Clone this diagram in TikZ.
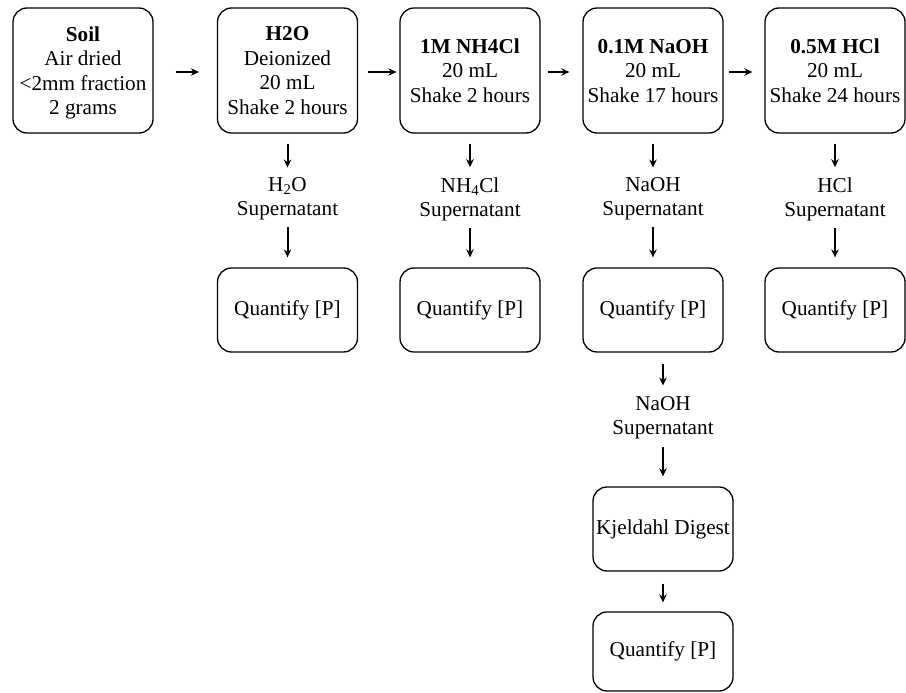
\documentclass[tikz,border=0pt]{standalone}
\usepackage{fontspec}
\setmainfont{Liberation Serif}
\usetikzlibrary{shapes.geometric, arrows, arrows.meta}

\begin{document}
\begin{tikzpicture}[x=1pt,y=-1pt,
  box/.style={draw, rounded corners=14pt, line width=1.3pt, align=center,
    minimum width=140pt, inner sep=0pt, font=\fontsize{21.2}{24.5}\selectfont},
  topbox/.style={box, minimum height=125pt, text depth=-10pt},
  supnode/.style={align=center, inner sep=0pt, font=\fontsize{21.2}{24}\selectfont},
  flow/.style={-{Stealth[length=8pt,width=7.5pt]}, line width=2pt}]
\useasboundingbox (0,0) rectangle (906,693);

% \draw[step=50, gray, very thin] (0,0) grid (906,693);

% top row
\node[topbox] (soil) at (83,70.5)
  {\textbf{Soil}\\Air dried\\<2mm fraction\\2 grams};
\node[topbox] (water) at (287.5,70.5)
  {\textbf{H2O}\\Deionized\\20 mL\\Shake 2 hours};
\node[topbox] (nhcl) at (470,70.5)
  {\textbf{1M NH4Cl}\\20 mL\\Shake 2 hours};
\node[topbox] (naoh) at (653,70.5)
  {\textbf{0.1M NaOH}\\20 mL\\Shake 17 hours};
\node[topbox] (hcl) at (835,70.5)
  {\textbf{0.5M HCl}\\20 mL\\Shake 24 hours};

% supernatants
\node[supnode] (supwater) at (287.5,199) {H\textsubscript{2}O\\Supernatant};
\node[supnode] (supnhcl) at (470,199) {NH\textsubscript{4}Cl\\Supernatant};
\node[supnode] (supnaoh) at (653,199) {NaOH\\Supernatant};
\node[supnode] (suphcl) at (835,199) {HCl\\Supernatant};

% quantify
\node[box, minimum height=84pt] (qwater) at (287.5,310) {Quantify [P]};
\node[box, minimum height=84pt] (qnhcl) at (470,310) {Quantify [P]};
\node[box, minimum height=84pt] (qnaoh) at (653,310) {Quantify [P]};
\node[box, minimum height=84pt] (qhcl) at (835,310) {Quantify [P]};

% NaOH digest branch
\node[supnode] (supdigest) at (663,418) {NaOH\\Supernatant};
\node[box, minimum height=84pt] (kjeldahl) at (663,529) {Kjeldahl Digest};
\node[box, minimum height=79pt] (qdigest) at (663,651.5) {Quantify [P]};

% arrows
\foreach \a/\b/\s/\e in {soil/water/22/18, water/nhcl/10/3, nhcl/naoh/7/13, naoh/hcl/5/12}
    \draw[flow, shorten <=\s pt, shorten >=\e pt] (\a.east) ++(0,1.5) -- ([yshift=-1.5pt]\b.west);
\foreach \c in {water, nhcl, naoh, hcl}
{
    \draw[flow, shorten <=10pt, shorten >=10pt] (\c.south) -- (sup\c.north);
    \draw[flow, shorten <=7pt, shorten >=10pt] (sup\c.south) -- (q\c.north);
}
\draw[flow, shorten <=11pt, shorten >=11pt] (qnaoh.south -| supdigest) -- (supdigest.north);
\draw[flow, shorten <=8pt, shorten >=10pt] (supdigest.south) -- (kjeldahl.north);
\draw[flow, shorten <=12pt, shorten >=9pt] (kjeldahl.south) -- (qdigest.north);

\end{tikzpicture}
\end{document}
